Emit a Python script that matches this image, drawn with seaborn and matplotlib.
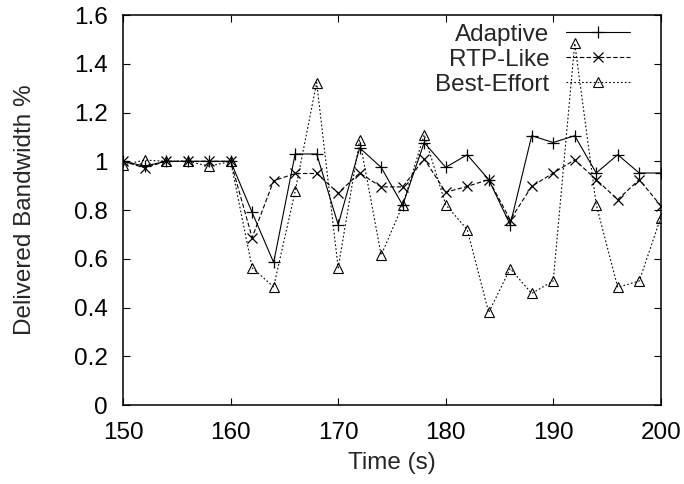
import matplotlib
matplotlib.use("Agg")
import matplotlib.pyplot as plt
import seaborn as sns
import numpy as np

time_s = [150, 152, 154, 156, 158, 160, 162, 164, 166, 168, 170, 172, 174,
          176, 178, 180, 182, 184, 186, 188, 190, 192, 194, 196, 198, 200]
adaptive = [1.0, 0.98, 1.0, 1.0, 1.0, 1.0, 0.79, 0.585, 1.03, 1.03, 0.74, 1.055, 0.975,
            0.82, 1.077, 0.975, 1.027, 0.925, 0.74, 1.105, 1.077, 1.105, 0.952, 1.027, 0.952, 0.952]
rtp_like = [1.0, 0.973, 1.0, 1.0, 1.0, 1.0, 0.687, 0.92, 0.95, 0.95, 0.87, 0.952, 0.895,
            0.895, 1.01, 0.873, 0.897, 0.925, 0.76, 0.897, 0.952, 1.006, 0.925, 0.843, 0.925, 0.818]
best_effort = [0.985, 1.005, 1.0, 1.0, 0.98, 1.0, 0.563, 0.485, 0.877, 1.323, 0.563, 1.088, 0.615,
               0.82, 1.109, 0.822, 0.72, 0.38, 0.56, 0.458, 0.509, 1.484, 0.822, 0.483, 0.509, 0.769]

x_ticks = [150, 160, 170, 180, 190, 200]
y_ticks = [0, 0.2, 0.4, 0.6, 0.8, 1.0, 1.2, 1.4, 1.6]
y_tick_labels = ["0", "0.2", "0.4", "0.6", "0.8", "1", "1.2", "1.4", "1.6"]

sns.set_style("ticks")
plt.rcParams['font.family'] = ['Liberation Sans', 'DejaVu Sans']

fig = plt.figure(figsize=(6.84, 4.84), dpi=100)
ax = fig.add_axes([0.180, 0.163, 0.786, 0.806])

common = dict(ax=ax, color="black", linewidth=0.8, markeredgecolor="black")
sns.lineplot(x=time_s, y=adaptive, linestyle="-", marker="+", markersize=8,
             markeredgewidth=0.9, label="Adaptive", **common)
sns.lineplot(x=time_s, y=rtp_like, linestyle=(0, (4, 2)), marker="x", markersize=7,
             markeredgewidth=0.9, label="RTP-Like", **common)
sns.lineplot(x=time_s, y=best_effort, linestyle=(0, (1.5, 2)), marker="^", markersize=6.5,
             markeredgewidth=0.8, markerfacecolor="none", label="Best-Effort", **common)

ax.set_xlim(150, 200)
ax.set_ylim(0, 1.6)
ax.set_xticks(x_ticks)
ax.set_yticks(y_ticks)
ax.set_yticklabels(y_tick_labels)
ax.tick_params(direction="in", length=5, width=0.8, top=True, right=True,
               labelsize=17.5, colors="black")
ax.tick_params(axis="y", pad=11)
ax.tick_params(axis="x", pad=12)
for sp in ax.spines.values():
    sp.set_linewidth(1.1)
    sp.set_color("black")
    sp.set_visible(True)

ax.set_xlabel("Time (s)", fontsize=17.5, labelpad=6)
ax.set_ylabel("Delivered Bandwidth %", fontsize=17.5, labelpad=27)

leg = ax.legend(loc="upper right", bbox_to_anchor=(0.942, 0.977), frameon=False,
                markerfirst=False, fontsize=17.5, handlelength=2.63, handletextpad=0.66,
                labelspacing=0.12, borderaxespad=0.0, borderpad=0.0, numpoints=1)

fig.savefig("out.png", dpi=100)
